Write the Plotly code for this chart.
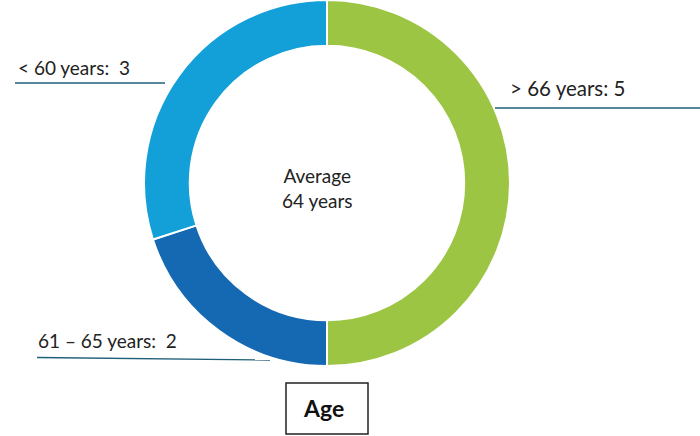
import plotly.graph_objects as go

labels = ["> 66 years", "61 – 65 years", "< 60 years"]
values = [5, 2, 3]
colors = ["#9DC544", "#1569B3", "#139FD8"]
label_texts = ["> 66 years: 5", "61 – 65 years:  2", "< 60 years:  3"]
center_text = "Average<br>64 years"
title_text = "Age"

W, H = 700, 436
def px(x): return x / W
def py(y): return 1 - y / H

fig = go.Figure()
fig.add_trace(go.Pie(
    labels=labels, values=values, hole=0.75, sort=False, direction="clockwise",
    rotation=0, marker=dict(colors=colors, line=dict(color="white", width=2)),
    textinfo="none", hoverinfo="label+value", showlegend=False,
    domain=dict(x=[px(143), px(511)], y=[py(366), py(0)]),
))

ff = "Lato, Open Sans, sans-serif"
fig.add_annotation(x=px(508), y=py(88), text=label_texts[0], showarrow=False,
                   xref="paper", yref="paper", xanchor="left", yanchor="middle",
                   font=dict(family=ff, size=20.5, color="#222222"))
fig.add_annotation(x=px(36), y=py(340), text=label_texts[1], showarrow=False,
                   xref="paper", yref="paper", xanchor="left", yanchor="middle",
                   font=dict(family=ff, size=19, color="#222222"))
fig.add_annotation(x=px(16), y=py(68), text=label_texts[2], showarrow=False,
                   xref="paper", yref="paper", xanchor="left", yanchor="middle",
                   font=dict(family=ff, size=19, color="#222222"))

line_style = dict(color="#1F5F7A", width=1.3)
fig.add_shape(type="line", xref="paper", yref="paper", x0=px(495), x1=px(700), y0=py(108), y1=py(108), line=line_style)
fig.add_shape(type="line", xref="paper", yref="paper", x0=px(37), x1=px(270), y0=py(357.5), y1=py(360), line=line_style)
fig.add_shape(type="line", xref="paper", yref="paper", x0=px(15), x1=px(165), y0=py(83), y1=py(83), line=line_style)

fig.add_annotation(x=px(317), y=py(188), text=center_text, showarrow=False,
                   xref="paper", yref="paper", xanchor="center", yanchor="middle",
                   font=dict(family=ff, size=19, color="#222222"))

fig.add_shape(type="rect", xref="paper", yref="paper", x0=px(286), x1=px(368), y0=py(434), y1=py(383),
              line=dict(color="#222222", width=1.5), fillcolor="white")
fig.add_annotation(x=px(323), y=py(408), text="<b>" + title_text + "</b>", showarrow=False,
                   xref="paper", yref="paper", xanchor="center", yanchor="middle",
                   font=dict(family=ff, size=23, color="#111111"))

fig.update_layout(width=W, height=H, margin=dict(l=0, r=0, t=0, b=0),
                  paper_bgcolor="white", plot_bgcolor="white")
fig.write_html("out.html", config={"displayModeBar": False},
               post_script="document.body.style.margin='0';document.body.style.overflow='hidden';")
